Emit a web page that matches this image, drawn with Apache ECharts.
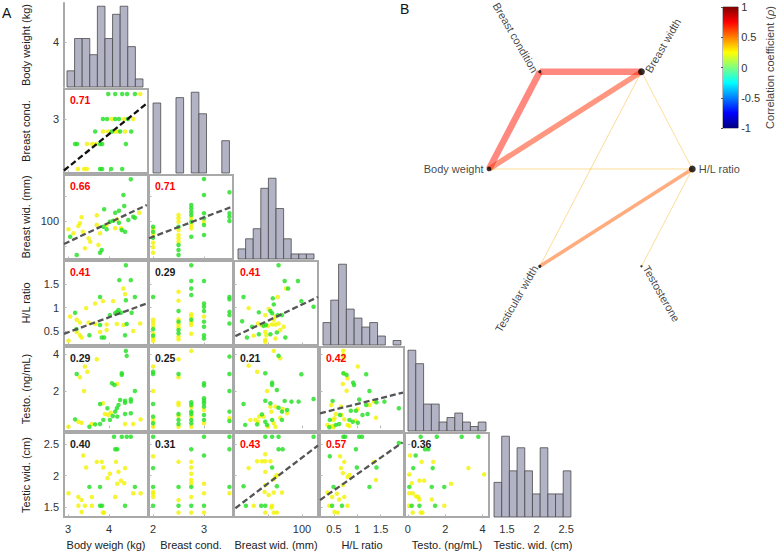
<!DOCTYPE html>
<html>
<head>
<meta charset="utf-8">
<script src="https://cdn.jsdelivr.net/npm/echarts@6/dist/echarts.min.js"></script>
<style>
  html, body { margin: 0; padding: 0; background: #fff; }
  #main { width: 776px; height: 552px; }
</style>
</head>
<body>
<div id="main"></div>
<script>
// ---- variables (index: 0 body weight, 1 breast cond, 2 breast width, 3 H/L, 4 testo, 5 testic width)
const xNames = ['Body weigh (kg)', 'Breast cond.', 'Breast wid. (mm)', 'H/L ratio', 'Testo. (ng/mL)', 'Testic. wid. (cm)']
const yNames = ['Body weight (kg)', 'Breast cond.', 'Breast wid. (mm)', 'H/L ratio', 'Testo. (ng/mL)', 'Testic wid. (cm)']
const nodeNames = ['Body weight', 'Breast condition', 'Breast width', 'H/L ratio', 'Testosterone', 'Testicular width']

const xRange = [[2.9, 4.95], [1.92, 3.57], [80, 104.7], [0.2, 2.0], [-0.15, 4.34], [1.23, 2.65]]
const yRange = [[2.9, 4.95], [1.92, 3.6], [84.8, 118.4], [0.2, 2.0], [-0.15, 4.4], [1.34, 2.68]]
const xTicks = [[3, 4], [2, 3], [90, 100], [0.5, 1, 1.5], [0, 2, 4], [1.5, 2, 2.5]]
const xTickLabels = [[3, 4], [2, 3], [100], [0.5, 1, 1.5], [0, 2, 4], [1.5, 2, 2.5]]
const yTicks = [[4], [3], [90, 100, 110], [0.5, 1, 1.5], [2, 4], [1.5, 2, 2.5]]
const yTickLabels = [[4], [3], [100], [0.5, 1, 1.5], [2, 4], [1.5, 2, 2.5]]

// histograms on the diagonal: counts per bin, first bin edge, bin width
const histCounts = [
  [2, 6, 6, 4, 10, 6, 9, 10, 5, 1],
  [13, 0, 0, 14, 0, 15, 11, 0, 0, 6],
  [2, 4, 6, 14, 16, 10, 4, 1, 1, 1],
  [5, 10, 18, 8, 6, 4, 5, 2, 0, 1],
  [18, 15, 6, 6, 2, 3, 4, 2, 1, 2],
  [3, 7, 4, 6, 4, 2, 6, 2, 2, 4]
]
const histStart = [2.973, 2.0, 81.18, 0.264, 0.01, 1.281]
const histWidth = [0.1854, 0.15, 2.235, 0.167, 0.417, 0.13]

// correlation coefficients, lower triangle (row var vs column var)
const rho = [
  [],
  [0.71],
  [0.66, 0.71],
  [0.41, 0.29, 0.41],
  [0.29, 0.25, 0.21, 0.42],
  [0.40, 0.31, 0.43, 0.57, 0.36]
]
const SIG = 0.405 // red label / network edge above this

// fitted lines [row, col, start, end]
const fitLines = [
  [1, 0, [2.9, 1.97], [4.92, 3.31]],
  [2, 0, [2.9, 90.8], [4.92, 106.4]],
  [2, 1, [1.92, 93.1], [3.55, 105.7]],
  [3, 0, [2.9, 0.44], [4.92, 1.09]],
  [3, 2, [80.4, 0.39], [104.7, 1.23]],
  [4, 3, [0.2, 0.81], [1.98, 1.93]],
  [5, 2, [80.4, 1.48], [104.7, 2.48]],
  [5, 3, [0.2, 1.61], [1.97, 2.53]]
]

// ---- scatter points, [x, y] ; green and yellow groups
const BW_BC_g = [[3.98, 3.5], [4.15, 3.5], [4.32, 3.5], [4.44, 3.5], [4.63, 3.5], [3.85, 3], [3.95, 3], [4.15, 3], [4.24, 3], [4.46, 3], [3.66, 2.75], [4.07, 2.75], [4.27, 2.75], [4.54, 2.75], [3.17, 2.5], [3.22, 2.5], [3.78, 2.5], [3.83, 2.5], [4.41, 2.5], [3.78, 2], [3.83, 2], [4.05, 2], [4.32, 2]]
const BW_BC_y = [[4.76, 3.5], [4.07, 3], [4.37, 3], [4.59, 3], [3.85, 2.75], [3.98, 2.75], [4.15, 2.75], [4.22, 2.75], [4.39, 2.75], [3.46, 2.5], [3.59, 2.5], [3.68, 2.5], [3.24, 2], [3.39, 2], [3.46, 2]]

const BW_BD_g = [[4.53, 116.7], [4.35, 110.4], [4.37, 106.0], [3.88, 104.7], [4.15, 103.3], [4.24, 104.1], [4.63, 101.3], [4.24, 99.3], [3.05, 93.7], [3.86, 97.7], [4.02, 99.7], [4.10, 100.1], [4.31, 96.4], [4.39, 95.7], [3.82, 88.4], [3.78, 87.3], [3.21, 86.4], [3.94, 96.7], [4.47, 100.4], [4.59, 101.7]]
const BW_BD_y = [[3.70, 102.3], [3.33, 101.5], [4.74, 103.3], [4.19, 100.7], [3.29, 99.1], [3.25, 98.0], [3.01, 96.7], [3.36, 95.7], [3.50, 93.1], [3.70, 98.4], [3.94, 98.4], [4.29, 97.1], [3.78, 95.1], [3.74, 90.4], [3.41, 89.1], [3.54, 91.7], [4.15, 97.1], [3.13, 95.1]]

const BW_HL_g = [[4.41, 1.91], [4.25, 1.59], [4.53, 1.59], [3.78, 1.23], [4.41, 1.16], [4.63, 1.23], [3.17, 0.89], [4.02, 0.84], [4.15, 0.88], [4.19, 0.91], [4.23, 0.95], [4.29, 0.89], [4.55, 0.89], [3.78, 0.63], [4.43, 0.65], [3.52, 0.41], [3.82, 0.36], [3.88, 0.36], [4.39, 0.41], [3.20, 0.54]]
const BW_HL_y = [[4.35, 1.41], [4.39, 1.29], [3.85, 1.14], [4.10, 1.14], [3.44, 0.99], [3.66, 1.09], [3.05, 0.81], [3.21, 0.74], [3.29, 0.68], [3.50, 0.68], [3.66, 0.65], [3.94, 0.64], [4.19, 0.65], [4.35, 0.63], [4.76, 0.66], [3.21, 0.48], [3.29, 0.41], [3.33, 0.36], [3.01, 0.29], [3.78, 0.48], [3.94, 0.52], [4.59, 0.50]]

const BW_TS_g = [[4.41, 4.19], [4.43, 3.92], [3.21, 2.94], [4.07, 2.44], [4.13, 2.34], [4.31, 2.98], [4.31, 2.89], [4.63, 2.02], [4.53, 1.57], [4.53, 1.44], [4.39, 1.49], [4.39, 1.38], [4.27, 1.53], [3.78, 1.31], [3.96, 1.08], [4.23, 1.26], [4.19, 1.08], [4.15, 0.90], [3.17, 0.48], [3.66, 0.21], [3.78, 0.23], [3.52, 0.08], [3.86, 0.45], [4.02, 0.45], [4.09, 0.66], [4.20, 0.63], [4.39, 0.77], [4.53, 0.81]]
const BW_TS_y = [[3.70, 3.74], [3.41, 3.34], [3.47, 3.06], [3.29, 2.76], [3.39, 2.02], [4.20, 2.40], [3.85, 1.35], [4.04, 0.84], [3.90, 0.77], [3.33, 0.30], [3.25, 0.35], [3.58, 0.23], [3.01, 0.08], [4.39, 0.23], [4.59, 0.23], [4.77, 0.48], [3.98, 0.72]]

const BW_TW_g = [[4.12, 2.62], [4.31, 2.62], [4.43, 2.62], [4.53, 2.62], [4.15, 2.42], [4.20, 2.42], [3.52, 1.82], [3.78, 1.82], [4.63, 1.82], [3.78, 1.52], [3.83, 1.52], [4.39, 1.52]]
const BW_TW_y = [[3.37, 2.32], [3.70, 2.22], [3.82, 2.22], [4.17, 2.22], [3.44, 2.13], [3.86, 2.13], [4.39, 2.12], [4.02, 2.03], [4.23, 2.06], [3.96, 1.96], [4.29, 1.92], [4.20, 1.87], [4.37, 1.88], [4.59, 1.72], [4.77, 1.72], [3.01, 1.72], [3.25, 1.66], [3.33, 1.61], [3.58, 1.66], [4.15, 1.66], [3.25, 1.52], [3.41, 1.52], [3.58, 1.52], [3.33, 1.42], [3.85, 1.41], [3.88, 1.41]]

const BC_BD_g = [[2, 97.7], [2, 95.7], [2, 93.3], [2.5, 97.7], [2.5, 90.4], [2.5, 88.4], [2.5, 86.4], [2.75, 106.4], [2.75, 105.1], [2.75, 103.7], [2.75, 102.4], [2.75, 99.7], [2.75, 93.7], [3, 116.8], [3, 110.4], [3, 103.1], [3, 101.1], [3, 98.4], [3, 94.4], [3.5, 111.5], [3.5, 103.1], [3.5, 101.7], [3.5, 100.0]]
const BC_BD_y = [[2, 96.8], [2, 94.7], [2, 91.3], [2, 89.5], [2, 87.3], [2.5, 102.4], [2.5, 101.1], [2.5, 99.7], [2.5, 96.4], [2.5, 94.4], [2.5, 93.1], [2.5, 91.7], [2.75, 101.1], [2.75, 98.4], [2.75, 97.1], [3, 99.7]]

const BC_HL_g = [[2, 1.23], [2, 0.54], [2, 0.40], [2.5, 0.93], [2.5, 0.70], [2.5, 0.52], [2.5, 0.45], [2.75, 1.91], [2.75, 1.57], [2.75, 1.41], [2.75, 1.27], [2.75, 0.74], [3, 1.57], [3, 1.09], [3, 1.02], [3, 0.93], [3, 0.70], [3, 0.59], [3, 0.41], [3, 0.34], [3.5, 1.23], [3.5, 1.18], [3.5, 0.91], [3.5, 0.84], [3.5, 0.66]]
const BC_HL_y = [[2, 0.74], [2, 0.68], [2, 0.61], [2, 0.45], [2, 0.34], [2, 0.29], [2.5, 1.34], [2.5, 1.15], [2.5, 0.75], [2.5, 0.64], [2.5, 0.58], [2.5, 0.38], [2.5, 0.32], [2.75, 0.86], [2.75, 0.81], [2.75, 0.68], [2.75, 0.63], [2.75, 0.44], [3, 0.81]]

const BC_TS_g = [[2, 3.06], [2, 2.94], [2, 1.31], [2, 0.63], [2, 0.27], [2.5, 2.94], [2.5, 0.77], [2.5, 0.45], [2.5, 0.23], [2.75, 1.41], [2.75, 1.26], [2.75, 0.90], [2.75, 0.77], [2.75, 0.45], [2.75, 0.27], [3, 2.44], [3, 2.31], [3, 1.62], [3, 1.49], [3, 1.35], [3, 1.17], [3, 0.72], [3, 0.45], [3.5, 3.88], [3.5, 2.94], [3.5, 2.02], [3.5, 0.90], [3.5, 0.39]]
const BC_TS_y = [[2, 3.34], [2, 2.02], [2, 0.45], [2, 0.08], [2.5, 3.74], [2.5, 2.76], [2.5, 1.38], [2.5, 1.26], [2.5, 0.66], [2.5, 0.08], [2.75, 4.19], [2.75, 1.13], [2.75, 0.63], [2.75, 0.08], [3, 0.99], [3, 0.27], [3.5, 0.54]]

const BC_TW_g = [[2, 2.62], [2, 2.12], [2, 1.82], [2, 1.52], [2.5, 1.82], [2.5, 1.52], [2.75, 2.42], [2.75, 1.82], [2.75, 1.52], [3, 2.62], [3, 2.32], [3, 1.52], [3.5, 2.62], [3.5, 2.42], [3.5, 1.82]]
const BC_TW_y = [[2, 2.31], [2, 1.74], [2, 1.71], [2, 1.66], [2.5, 2.22], [2.5, 1.61], [2.5, 1.41], [2.75, 2.22], [2.75, 2.13], [2.75, 2.03], [2.75, 1.93], [2.75, 1.88], [2.75, 1.66], [2.75, 1.41], [3, 1.87], [3, 1.72], [3, 1.41], [3.5, 1.72]]

const BD_HL_g = [[93.1, 1.91], [94.9, 1.57], [98.8, 1.57], [95.9, 1.41], [82.8, 1.23], [91.4, 1.20], [99.8, 1.14], [91.7, 1.07], [103.4, 1.02], [90.7, 0.93], [91.2, 0.88], [87.3, 0.90], [92.9, 0.84], [94.1, 0.84], [82.4, 0.71], [88.7, 0.61], [89.4, 0.63], [85.3, 0.59], [83.8, 0.36], [87.3, 0.43], [90.7, 0.43], [92.6, 0.47], [95.1, 0.36]]
const BD_HL_y = [[95.3, 1.41], [92.9, 1.23], [84.3, 0.99], [90.2, 0.97], [89.2, 0.84], [92.2, 0.81], [87.1, 0.66], [88.0, 0.63], [90.0, 0.61], [91.2, 0.64], [92.2, 0.64], [93.1, 0.66], [91.7, 0.74], [85.8, 0.40], [89.2, 0.48], [89.5, 0.41], [89.2, 0.31], [92.2, 0.34], [89.2, 0.27], [93.6, 0.52], [94.6, 0.59]]

const BD_TS_g = [[93.1, 3.93], [89.2, 2.98], [99.8, 2.92], [91.2, 2.47], [91.2, 2.34], [92.6, 2.07], [82.8, 1.31], [89.2, 1.49], [90.7, 1.35], [94.9, 1.48], [96.9, 1.44], [99.0, 1.44], [103.4, 1.58], [93.1, 1.11], [94.1, 0.90], [95.6, 0.99], [88.2, 0.75], [89.2, 0.35], [89.7, 0.18], [91.2, 0.45], [83.3, 0.18], [86.8, 0.21], [94.1, 0.45]]
const BD_TS_y = [[91.7, 4.19], [93.6, 3.79], [84.3, 3.39], [86.8, 3.06], [89.7, 2.02], [90.7, 1.17], [94.3, 1.04], [92.2, 1.17], [95.6, 0.81], [88.7, 0.63], [87.4, 0.63], [84.8, 0.45], [86.3, 0.45], [87.1, 0.35], [90.0, 0.08], [91.7, 0.27], [92.2, 0.08], [93.6, 0.57], [91.0, 0.90]]

const BD_TW_g = [[89.2, 2.62], [91.2, 2.62], [93.1, 2.62], [103.4, 2.62], [93.1, 2.42], [94.3, 2.42], [91.2, 2.13], [82.8, 1.83], [92.6, 1.83], [83.5, 1.52], [88.0, 1.52], [89.2, 1.52]]
const BD_TW_y = [[89.2, 2.34], [86.8, 2.23], [88.2, 2.23], [89.2, 2.23], [90.7, 2.23], [84.3, 2.12], [89.2, 2.06], [92.6, 2.01], [91.7, 1.94], [92.2, 1.98], [89.2, 1.85], [94.1, 1.73], [91.7, 1.73], [90.2, 1.69], [89.0, 1.74], [85.8, 1.52], [91.2, 1.52], [91.0, 1.49], [89.2, 1.41], [91.7, 1.41], [92.6, 1.41]]

const HL_TS_g = [[0.70, 2.98], [0.77, 2.89], [1.19, 2.92], [0.91, 2.47], [0.93, 2.34], [1.26, 2.02], [1.04, 1.56], [0.47, 1.48], [1.41, 1.41], [1.58, 1.44], [1.19, 1.26], [1.89, 1.08], [0.86, 0.95], [0.97, 0.95], [0.63, 0.72], [1.11, 0.72], [1.22, 0.77], [0.41, 0.45], [0.83, 0.45], [0.90, 0.35], [1.01, 0.30], [0.54, 0.18], [0.61, 0.23], [0.40, 0.05]]
const HL_TS_y = [[0.70, 4.20], [0.70, 3.97], [0.70, 3.79], [1.01, 3.34], [0.72, 2.96], [0.79, 2.71], [0.69, 2.40], [0.77, 2.03], [1.36, 1.44], [0.44, 1.26], [0.65, 1.17], [1.26, 1.26], [1.01, 1.03], [0.54, 0.77], [0.66, 0.72], [1.40, 0.57], [0.49, 0.45], [0.51, 0.54], [0.72, 0.48], [0.96, 0.41], [0.36, 0.18], [0.46, 0.12], [0.49, 0.05], [0.79, 0.18], [0.83, 0.12]]

const HL_TW_g = [[0.70, 2.62], [0.74, 2.62], [1.04, 2.62], [1.10, 2.62], [1.89, 2.52], [0.97, 2.42], [0.41, 2.31], [0.99, 2.13], [1.41, 2.13], [0.49, 1.82], [1.26, 1.82], [0.46, 1.52], [0.67, 1.52]]
const HL_TW_y = [[0.63, 2.31], [0.72, 2.22], [0.65, 2.12], [0.69, 2.04], [1.36, 2.22], [0.83, 2.01], [0.79, 1.98], [1.40, 1.93], [0.69, 1.85], [0.36, 1.73], [0.46, 1.66], [0.56, 1.71], [0.72, 1.66], [0.61, 1.62], [0.40, 1.52], [0.79, 1.52], [0.51, 1.42], [0.58, 1.41]]

const TS_TW_g = [[0.69, 2.62], [1.55, 2.62], [2.88, 2.62], [3.77, 2.62], [0.92, 2.42], [1.10, 2.42], [0.42, 2.32], [0.29, 2.12], [1.33, 2.12], [0.08, 1.82], [1.28, 1.82], [1.95, 1.82], [0.21, 1.52], [0.62, 1.52], [1.46, 1.52]]
const TS_TW_y = [[0.12, 2.32], [0.74, 2.22], [1.36, 2.22], [3.24, 2.12], [0.08, 2.02], [4.08, 2.02], [0.62, 1.92], [0.87, 1.92], [0.21, 1.88], [2.31, 1.87], [0.08, 1.72], [0.26, 1.72], [0.44, 1.67], [0.56, 1.66], [0.62, 1.62], [1.28, 1.62], [0.08, 1.52], [1.95, 1.52], [0.26, 1.41], [0.69, 1.41], [0.78, 1.41]]

// which panel uses which points: [row, col, green, yellow]
const panels = [
  [1, 0, BW_BC_g, BW_BC_y],
  [2, 0, BW_BD_g, BW_BD_y], [2, 1, BC_BD_g, BC_BD_y],
  [3, 0, BW_HL_g, BW_HL_y], [3, 1, BC_HL_g, BC_HL_y], [3, 2, BD_HL_g, BD_HL_y],
  [4, 0, BW_TS_g, BW_TS_y], [4, 1, BC_TS_g, BC_TS_y], [4, 2, BD_TS_g, BD_TS_y], [4, 3, HL_TS_g, HL_TS_y],
  [5, 0, BW_TW_g, BW_TW_y], [5, 1, BC_TW_g, BC_TW_y], [5, 2, BD_TW_g, BD_TW_y], [5, 3, HL_TW_g, HL_TW_y], [5, 4, TS_TW_g, TS_TW_y]
]

// ---- layout
const FONT = "'Liberation Sans', Arial, sans-serif"
const COL_LEFT = [64, 149, 234, 320, 405, 491]
const ROW_TOP = [3, 89, 175, 261, 347, 433]
const CELL = 84
const GREEN = '#1fe01f'
const YELLOW = '#f2f200'
const TICK = { show: true, inside: true, length: 2.5, lineStyle: { color: '#b4b4b4' } }

function jet(v) {
  // v in [-1, 1] -> jet colormap
  const t = (v + 1) / 2
  const ch = k => Math.round(255 * Math.max(0, Math.min(1, 1.5 - Math.abs(4 * t - k))))
  return 'rgb(' + ch(3) + ',' + ch(2) + ',' + ch(1) + ')'
}

function histItem(params, api) {
  const p0 = api.coord([api.value(0), api.value(2)])
  const p1 = api.coord([api.value(1), 0])
  return {
    type: 'rect',
    shape: { x: p0[0], y: p0[1], width: p1[0] - p0[0], height: p1[1] - p0[1] },
    style: { fill: '#b3b3c6', stroke: '#4a4a4a', lineWidth: 0.8 }
  }
}

const grids = []
const xAxes = []
const yAxes = []
const series = []
const graphic = []
const cellAxes = {}

for (let r = 0; r < 6; r++) {
  for (let c = 0; c <= r; c++) {
    const gi = grids.length
    const diag = r === c
    grids.push({
      left: COL_LEFT[c], top: ROW_TOP[r], width: CELL, height: CELL,
      show: !diag, borderColor: '#a9a9a9', borderWidth: 2
    })
    const xi = xAxes.length
    xAxes.push({
      gridIndex: gi, type: 'value', min: xRange[c][0], max: xRange[c][1],
      splitLine: { show: false },
      axisLine: { show: false },
      axisTick: Object.assign({}, TICK, { show: !diag, customValues: xTicks[c] }),
      axisLabel: { show: r === 5, customValues: xTickLabels[c], margin: 6, fontSize: 11, color: '#333' },
      name: r === 5 ? xNames[c] : '',
      nameLocation: 'middle', nameGap: 22,
      nameTextStyle: { fontSize: 11, color: '#222' }
    })
    let yi
    if (diag) {
      if (r === 0) {
        // body weight scale shown beside the first histogram
        yAxes.push({
          gridIndex: gi, type: 'value', position: 'left', min: yRange[0][0], max: yRange[0][1],
          splitLine: { show: false },
          axisLine: { show: true, lineStyle: { color: '#a9a9a9', width: 2 } },
          axisTick: Object.assign({}, TICK, { customValues: yTicks[0] }),
          axisLabel: { customValues: yTickLabels[0], margin: 5, fontSize: 11, color: '#333' },
          name: yNames[0], nameLocation: 'middle', nameGap: 33, nameRotate: 90,
          nameTextStyle: { fontSize: 11, color: '#222' }
        })
      }
      yi = yAxes.length
      yAxes.push({
        gridIndex: gi, type: 'value', position: 'right', min: 0,
        max: Math.max(...histCounts[r]) * 1.04, show: false
      })
      const bins = histCounts[r]
        .map((n, i) => [histStart[r] + i * histWidth[r], histStart[r] + (i + 1) * histWidth[r], n])
        .filter(b => b[2] > 0)
      series.push({
        type: 'custom', xAxisIndex: xi, yAxisIndex: yi, renderItem: histItem,
        encode: { x: [0, 1], y: 2 }, data: bins, silent: true
      })
    } else {
      yi = yAxes.length
      yAxes.push({
        gridIndex: gi, type: 'value', min: yRange[r][0], max: yRange[r][1],
        splitLine: { show: false },
        axisLine: { show: false },
        axisTick: Object.assign({}, TICK, { customValues: yTicks[r] }),
        axisLabel: { show: c === 0, customValues: yTickLabels[r], margin: 5, fontSize: 11, color: '#333' },
        name: c === 0 ? yNames[r] : '',
        nameLocation: 'middle', nameGap: 33, nameRotate: 90,
        nameTextStyle: { fontSize: 11, color: '#222' }
      })
      const v = rho[r][c]
      graphic.push({
        type: 'text', left: COL_LEFT[c] + 6, top: ROW_TOP[r] + 5, z: 100,
        style: { text: v.toFixed(2), fontFamily: FONT, fontSize: 10.5, fontWeight: 'bold', fill: v > SIG ? '#ff0000' : '#1a1a1a' }
      })
    }
    cellAxes[r + '-' + c] = [xi, yi]
  }
}

panels.forEach(([r, c, green, yellow]) => {
  const [xi, yi] = cellAxes[r + '-' + c]
  series.push({
    type: 'scatter', xAxisIndex: xi, yAxisIndex: yi, data: yellow,
    symbolSize: 4.5, itemStyle: { color: YELLOW }, silent: true
  })
  series.push({
    type: 'scatter', xAxisIndex: xi, yAxisIndex: yi, data: green,
    symbolSize: 4.5, itemStyle: { color: GREEN }, silent: true
  })
})

fitLines.forEach(([r, c, a, b]) => {
  const [xi, yi] = cellAxes[r + '-' + c]
  series.push({
    type: 'line', xAxisIndex: xi, yAxisIndex: yi, data: [a, b], symbol: 'none', z: 5,
    lineStyle: { color: r === 1 ? '#111' : '#555', width: 2.3, type: [6, 3] }, silent: true
  })
})

// ---- panel B: correlation network on a hidden unit-circle grid
const netGrid = grids.length
grids.push({ left: 489, top: 71.7, width: 203.3, height: 194.6, show: false })
const netX = xAxes.length
xAxes.push({ gridIndex: netGrid, type: 'value', min: -1, max: 1, show: false })
const netY = yAxes.length
yAxes.push({ gridIndex: netGrid, type: 'value', min: -0.866, max: 0.866, show: false })

// nodes placed counter-clockwise from the right
const circleOrder = [3, 2, 1, 0, 5, 4]
const nodeAngle = []
circleOrder.forEach((vi, k) => { nodeAngle[vi] = k * 60 })
const nodePos = nodeAngle.map(a => [Math.cos(a * Math.PI / 180), Math.sin(a * Math.PI / 180)])

const degree = nodeNames.map(() => 0)
rho.forEach((row, r) => row.forEach((v, c) => {
  if (v > SIG) {
    degree[r]++
    degree[c]++
    series.push({
      type: 'line', xAxisIndex: netX, yAxisIndex: netY, data: [nodePos[r], nodePos[c]],
      symbol: 'none', clip: false, silent: true, z: 2,
      lineStyle: { color: jet(v), width: Math.max(0.8, (v - 0.4) * 21), opacity: 0.5, cap: 'butt' }
    })
  }
}))

series.push({
  type: 'scatter', xAxisIndex: netX, yAxisIndex: netY, clip: false, silent: true, z: 4,
  itemStyle: { color: '#000' },
  label: { show: true, formatter: '{b}', distance: 3, fontSize: 11, color: '#111', fontFamily: FONT },
  data: nodeNames.map((name, vi) => {
    const ang = nodeAngle[vi]
    const right = Math.cos(ang * Math.PI / 180) > 0.01
    return {
      name: name,
      value: nodePos[vi],
      symbolSize: 2 + 0.3 * degree[vi] * degree[vi],
      label: {
        position: right ? 'right' : 'left',
        rotate: right ? (ang > 180 ? ang - 360 : ang) : ang - 180
      }
    }
  })
})

// ---- colour bar
const cbGrid = grids.length
grids.push({ left: 723, top: 7, width: 16, height: 121, show: true, borderColor: '#555', borderWidth: 0.8 })
const cbX = xAxes.length
xAxes.push({ gridIndex: cbGrid, type: 'value', min: 0, max: 1, show: false })
const cbY = yAxes.length
yAxes.push({
  gridIndex: cbGrid, type: 'value', position: 'right', min: -1, max: 1, interval: 0.5,
  splitLine: { show: false }, axisLine: { show: false },
  axisTick: { show: true, inside: true, length: 2, lineStyle: { color: '#555' } },
  axisLabel: { margin: 3, fontSize: 11, color: '#333' },
  name: 'Correlation coefficient ({i|ρ})', nameLocation: 'middle', nameGap: 25, nameRotate: 90,
  nameTextStyle: { fontSize: 11, color: '#444', rich: { i: { fontSize: 11, color: '#444', fontStyle: 'italic' } } }
})
const jetStops = [0, 0.125, 0.25, 0.375, 0.5, 0.625, 0.75, 0.875, 1].map(o => ({ offset: o, color: jet(1 - 2 * o) }))
series.push({
  type: 'custom', xAxisIndex: cbX, yAxisIndex: cbY, data: [[0, 0]], silent: true,
  renderItem: (params, api) => {
    const a = api.coord([0, 1])
    const b = api.coord([1, -1])
    return {
      type: 'rect',
      shape: { x: a[0], y: a[1], width: b[0] - a[0], height: b[1] - a[1] },
      style: { fill: new echarts.graphic.LinearGradient(0, 0, 0, 1, jetStops) }
    }
  }
})

graphic.push({ type: 'text', left: 2, top: 6, style: { text: 'A', fontFamily: FONT, fontSize: 14, fill: '#111' } })
graphic.push({ type: 'text', left: 400, top: 2, style: { text: 'B', fontFamily: FONT, fontSize: 14, fill: '#111' } })

const chart = echarts.init(document.getElementById('main'), null, { renderer: 'svg' })
chart.setOption({
  animation: false,
  textStyle: { fontFamily: FONT },
  grid: grids,
  xAxis: xAxes,
  yAxis: yAxes,
  series: series,
  graphic: graphic
})
</script>
</body>
</html>
